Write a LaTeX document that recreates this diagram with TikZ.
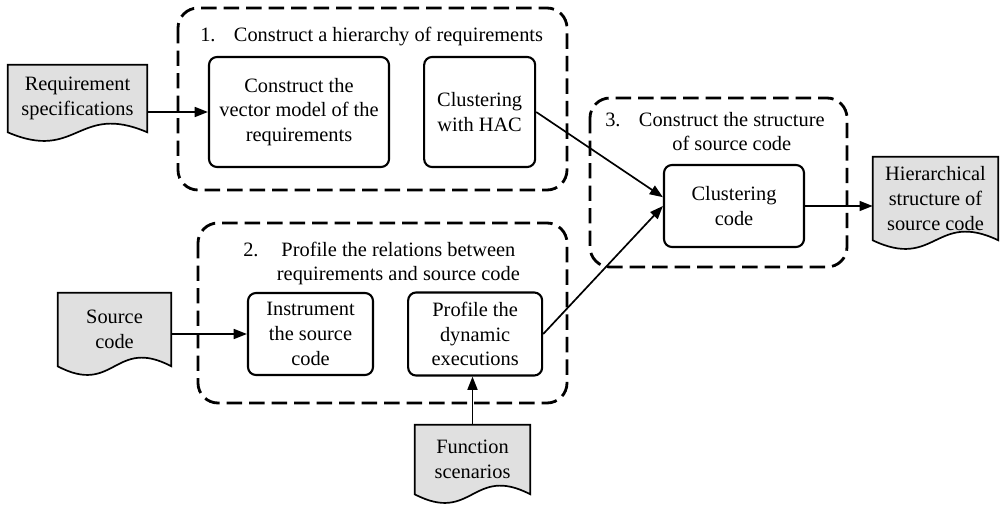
\documentclass[tikz,border=0pt]{standalone}
\usepackage{fontspec}
\setmainfont{Liberation Serif}
\usepackage{xcolor}
\usepackage{tikz}
\usetikzlibrary{positioning,calc,arrows.meta,backgrounds}
\definecolor{docGray}{RGB}{224,224,224}
\newcommand{\boxfont}{\fontsize{14.5}{17.5}\selectfont}
\newcommand{\stepnum}[1]{\makebox[1.65em][l]{#1}}
\tikzset{
    procbox/.style={
        rectangle,
        rounded corners=0.2cm,
        draw,
        line width=1.5pt,
        fill=white,
        align=center,
        inner sep=0pt,
        font=\boxfont
    },
    docnode/.style={
        rectangle,
        align=center,
        inner sep=0pt,
        font=\boxfont
    },
    docline/.style={
        draw,
        line width=1.2pt,
        fill=docGray
    },
    groupbox/.style={
        draw,
        line width=2pt,
        dash pattern=on 11pt off 5pt,
        rounded corners=0.5cm
    },
    steptitle/.style={
        anchor=base west,
        inner sep=0pt,
        font=\boxfont
    },
    ptr/.style={
        -{Triangle[length=0.33cm,width=0.25cm]},
        line width=1.2pt
    }
}

\begin{document}
\begin{tikzpicture}[x=0.025cm, y=-0.025cm, node distance=0.825cm]
        \useasboundingbox (0,0) rectangle (1001,506);

        \node[procbox, minimum width=4.5cm, minimum height=2.75cm] (vecmodel) at (299,112) {Construct the\\vector model of the\\requirements};
        \node[procbox, minimum width=2.775cm, minimum height=2.75cm, right=of vecmodel] (hac) {Clustering\\with HAC};
        \node[steptitle] (title1) at (200,42) {\stepnum{1.}Construct a hierarchy of requirements};
        \draw[groupbox] (178,8) rectangle (567,190);

        \node[procbox, minimum width=3.125cm, minimum height=2.05cm] (instrument) at (310.5,334) {Instrument\\the source\\code};
        \node[procbox, minimum width=3.35cm, minimum height=2.075cm, right=of instrument] (profexec) {Profile the\\dynamic\\executions};
        \node[steptitle] (title2) at (243,256) {\stepnum{2.}\begin{tabular}[t]{@{}c@{}}Profile the relations between\\requirements and source code\end{tabular}};
        \draw[groupbox] (198,223) rectangle (567,403);

        \node[procbox, minimum width=3.5cm, minimum height=2.05cm] (clustcode) at (734,206) {Clustering\\code};
        \node[steptitle] (title3) at (605,126) {\stepnum{3.}\begin{tabular}[t]{@{}c@{}}Construct the structure\\of source code\end{tabular}};
        \draw[groupbox] (590,98) rectangle (847,267);

        \node[docnode, minimum width=3.475cm, minimum height=1.675cm] (reqdoc) at (77.5,98.5) {Requirement\\specifications};
        \node[docnode, minimum width=2.825cm, minimum height=1.825cm] (srcdoc) at (114.5,329.5) {Source\\code};
        \node[docnode, minimum width=2.875cm, minimum height=1.725cm] (funcdoc) at (472.5,459.5) {Function\\scenarios};
        \node[docnode, minimum width=3.125cm, minimum height=2.075cm] (hierdoc) at (935.5,198.5) {Hierarchical\\structure of\\source code};

        \begin{scope}[on background layer]
            \foreach \dname in {reqdoc,srcdoc,funcdoc,hierdoc}
                \draw[docline] (\dname.north west) -- (\dname.north east) -- (\dname.south east)
                    .. controls ($(\dname.south)+(0,-30)$) and ($(\dname.south)+(0,30)$) .. (\dname.south west) -- cycle;
        \end{scope}

        \draw[ptr] (reqdoc.east |- vecmodel.west) -- (vecmodel.west);
        \draw[ptr] (srcdoc.east |- instrument.west) -- (instrument.west);
        \draw[ptr] (funcdoc.north) -- (funcdoc.north |- profexec.south);
        \draw[ptr] (hac.east) -- ([yshift=0.22cm]clustcode.west);
        \draw[ptr] (profexec.east) -- (clustcode.west);
        \draw[ptr] (clustcode.east) -- (clustcode.east -| hierdoc.west);
    \end{tikzpicture}
\end{document}
